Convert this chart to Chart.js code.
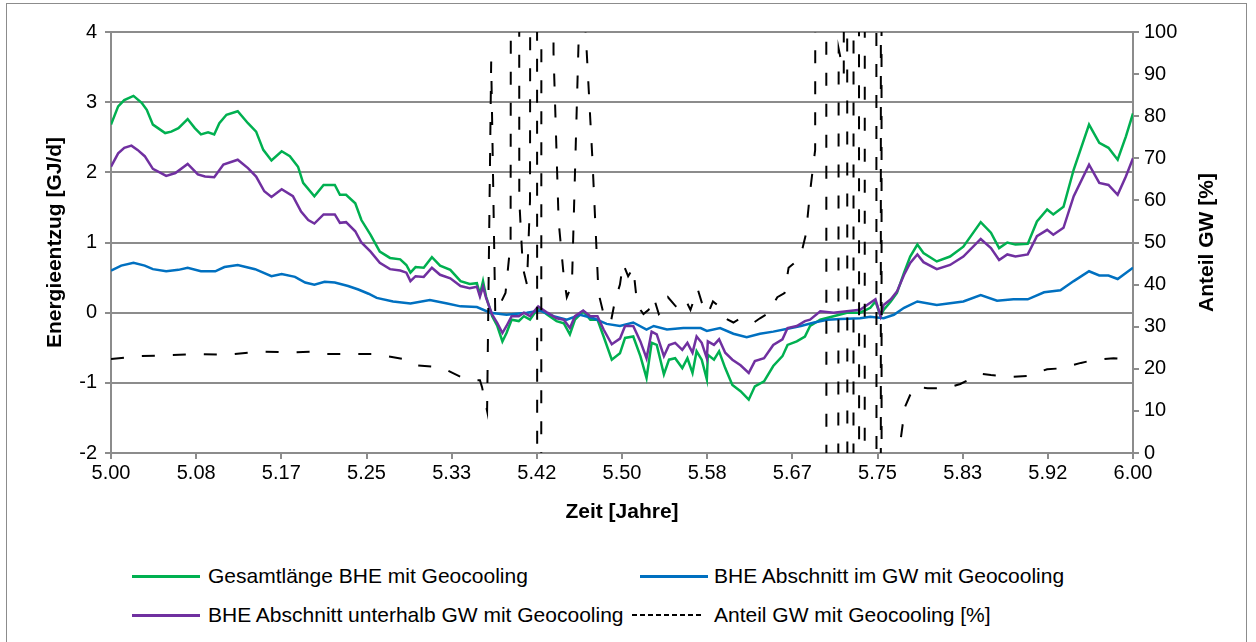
<!DOCTYPE html>
<html>
<head>
<meta charset="utf-8">
<script src="https://cdn.jsdelivr.net/npm/chart.js@4.4.1/dist/chart.umd.min.js"></script>
<style>
  body { margin: 0; background: #fff; font-family: "Liberation Sans", Arial, sans-serif; }
  #frame { position: absolute; left: 6px; top: 3px; width: 1239px; height: 660px; border: 1px solid #8c8c8c; }
  #wrap { position: absolute; left: 0; top: 0; width: 1256px; height: 530px; }
  .item { position: absolute; font-size: 21px; color: #000; white-space: nowrap; line-height: 24px; }
  .swatch { position: absolute; height: 3px; width: 68px; }
  .dash { position: absolute; height: 2px; width: 72px;
          background: repeating-linear-gradient(to right, #000 0 5px, transparent 5px 8px); }
</style>
</head>
<body>
<div id="frame"></div>
<div id="wrap"><canvas id="chart"></canvas></div>
<div id="legend"></div>
<script>
// tick labels and axis titles
var xTickLabels = ['5.00', '5.08', '5.17', '5.25', '5.33', '5.42', '5.50', '5.58', '5.67', '5.75', '5.83', '5.92', '6.00'];
var xTitle = 'Zeit [Jahre]';
var yTitle = 'Energieentzug [GJ/d]';
var yRightTitle = 'Anteil GW [%]';

// Gesamtlänge BHE mit Geocooling [GJ/d]
var greenT = [5.000, 5.007, 5.013, 5.022, 5.030, 5.035, 5.041, 5.046, 5.053, 5.059, 5.066, 5.075, 5.082, 5.088, 5.095, 5.101,
  5.106, 5.113, 5.124, 5.134, 5.142, 5.149, 5.157, 5.167, 5.175, 5.183, 5.188, 5.199, 5.208, 5.219, 5.224, 5.230, 5.239,
  5.245, 5.254, 5.263, 5.273, 5.283, 5.289, 5.293, 5.298, 5.306, 5.314, 5.322, 5.332, 5.342, 5.351, 5.358, 5.361, 5.364,
  5.367, 5.373, 5.378, 5.383, 5.387, 5.392, 5.399, 5.404, 5.410, 5.418, 5.427, 5.436, 5.443, 5.449, 5.454, 5.462, 5.469,
  5.476, 5.482, 5.490, 5.498, 5.503, 5.511, 5.518, 5.524, 5.529, 5.534, 5.541, 5.546, 5.552, 5.559, 5.564, 5.569, 5.573,
  5.578, 5.583, 5.584, 5.590, 5.595, 5.601, 5.608, 5.616, 5.624, 5.630, 5.639, 5.648, 5.657, 5.662, 5.671, 5.679, 5.684,
  5.694, 5.707, 5.720, 5.733, 5.743, 5.748, 5.753, 5.756, 5.763, 5.769, 5.776, 5.782, 5.789, 5.795, 5.808, 5.821, 5.834,
  5.851, 5.861, 5.869, 5.877, 5.885, 5.897, 5.906, 5.916, 5.922, 5.932, 5.942, 5.957, 5.967, 5.976, 5.985, 5.993, 6.000];
var greenV = [2.68, 2.94, 3.03, 3.09, 2.99, 2.89, 2.68, 2.63, 2.56, 2.58, 2.63, 2.76, 2.63, 2.54, 2.57, 2.54,
  2.70, 2.82, 2.87, 2.70, 2.58, 2.32, 2.17, 2.30, 2.23, 2.08, 1.85, 1.66, 1.82, 1.82, 1.68, 1.68, 1.56,
  1.32, 1.11, 0.87, 0.78, 0.76, 0.68, 0.57, 0.65, 0.64, 0.79, 0.67, 0.61, 0.45, 0.41, 0.42, 0.26, 0.45,
  0.23, -0.05, -0.19, -0.41, -0.29, -0.10, -0.12, -0.05, -0.10, 0.07, -0.03, -0.12, -0.15, -0.31, -0.10, 0.02, -0.10,
  -0.10, -0.34, -0.67, -0.58, -0.36, -0.34, -0.62, -0.93, -0.43, -0.46, -0.88, -0.67, -0.65, -0.79, -0.65, -0.86, -0.55,
  -0.67, -0.95, -0.60, -0.67, -0.55, -0.79, -1.03, -1.12, -1.24, -1.05, -0.98, -0.76, -0.62, -0.46, -0.41, -0.34, -0.19,
  -0.10, -0.05, 0.00, 0.00, 0.07, 0.16, -0.05, 0.04, 0.16, 0.28, 0.57, 0.80, 0.97, 0.85, 0.73, 0.80, 0.94,
  1.29, 1.14, 0.92, 1.00, 0.97, 0.98, 1.30, 1.47, 1.40, 1.51, 2.04, 2.68, 2.42, 2.35, 2.18, 2.51, 2.84];

// BHE Abschnitt unterhalb GW mit Geocooling [GJ/d]
var purpleT = [5.000, 5.007, 5.013, 5.020, 5.026, 5.033, 5.041, 5.049, 5.054, 5.063, 5.075, 5.085, 5.092, 5.101, 5.110,
  5.124, 5.134, 5.142, 5.150, 5.157, 5.167, 5.178, 5.186, 5.193, 5.199, 5.208, 5.219, 5.224, 5.230, 5.239, 5.245, 5.254,
  5.263, 5.273, 5.283, 5.289, 5.293, 5.298, 5.306, 5.314, 5.322, 5.332, 5.342, 5.351, 5.358, 5.361, 5.364, 5.367, 5.373,
  5.378, 5.383, 5.387, 5.392, 5.399, 5.404, 5.410, 5.418, 5.427, 5.436, 5.443, 5.449, 5.454, 5.462, 5.469, 5.476, 5.482,
  5.490, 5.498, 5.503, 5.511, 5.518, 5.524, 5.529, 5.534, 5.541, 5.546, 5.552, 5.559, 5.564, 5.569, 5.573, 5.578, 5.583,
  5.584, 5.590, 5.595, 5.601, 5.608, 5.616, 5.624, 5.630, 5.639, 5.648, 5.657, 5.662, 5.671, 5.679, 5.684, 5.694, 5.707,
  5.720, 5.733, 5.743, 5.748, 5.753, 5.756, 5.763, 5.769, 5.776, 5.782, 5.789, 5.795, 5.808, 5.821, 5.834, 5.851, 5.861,
  5.869, 5.877, 5.885, 5.897, 5.906, 5.916, 5.922, 5.932, 5.942, 5.957, 5.967, 5.976, 5.985, 5.993, 6.000];
var purpleV = [2.08, 2.27, 2.35, 2.38, 2.32, 2.23, 2.05, 1.99, 1.95, 1.99, 2.12, 1.97, 1.94, 1.93, 2.11,
  2.18, 2.06, 1.94, 1.73, 1.65, 1.76, 1.66, 1.44, 1.32, 1.27, 1.40, 1.40, 1.28, 1.29, 1.16, 1.00, 0.87,
  0.71, 0.62, 0.60, 0.57, 0.45, 0.52, 0.51, 0.64, 0.54, 0.49, 0.38, 0.35, 0.37, 0.23, 0.37, 0.21, -0.03,
  -0.15, -0.29, -0.19, -0.05, -0.05, 0.00, -0.05, 0.09, 0.00, -0.08, -0.10, -0.22, -0.05, 0.03, -0.05, -0.05, -0.24,
  -0.45, -0.37, -0.19, -0.19, -0.41, -0.65, -0.27, -0.31, -0.62, -0.46, -0.43, -0.53, -0.43, -0.57, -0.34, -0.43, -0.65,
  -0.41, -0.46, -0.38, -0.57, -0.67, -0.75, -0.86, -0.69, -0.65, -0.46, -0.38, -0.22, -0.19, -0.12, -0.10, 0.02, 0.00,
  0.02, 0.04, 0.14, 0.19, -0.05, 0.11, 0.19, 0.30, 0.54, 0.71, 0.83, 0.72, 0.62, 0.68, 0.80, 1.05, 0.92,
  0.75, 0.83, 0.80, 0.83, 1.09, 1.18, 1.11, 1.21, 1.66, 2.11, 1.85, 1.82, 1.68, 1.94, 2.20];

// BHE Abschnitt im GW mit Geocooling [GJ/d]
var blueT = [5.000, 5.010, 5.022, 5.033, 5.041, 5.054, 5.066, 5.075, 5.088, 5.102, 5.111, 5.124, 5.141, 5.157, 5.167,
  5.180, 5.190, 5.199, 5.209, 5.219, 5.232, 5.242, 5.252, 5.260, 5.276, 5.293, 5.312, 5.329, 5.342, 5.358, 5.371, 5.387,
  5.407, 5.420, 5.433, 5.446, 5.459, 5.472, 5.485, 5.498, 5.511, 5.524, 5.531, 5.544, 5.560, 5.577, 5.583, 5.596, 5.609,
  5.622, 5.635, 5.648, 5.662, 5.675, 5.688, 5.701, 5.714, 5.733, 5.743, 5.756, 5.766, 5.776, 5.789, 5.808, 5.834, 5.851,
  5.867, 5.883, 5.897, 5.913, 5.929, 5.942, 5.957, 5.967, 5.976, 5.985, 6.000];
var blueV = [0.60, 0.67, 0.71, 0.67, 0.62, 0.59, 0.61, 0.64, 0.59, 0.59, 0.65, 0.68, 0.62, 0.52, 0.55,
  0.51, 0.43, 0.40, 0.44, 0.43, 0.38, 0.33, 0.27, 0.21, 0.16, 0.13, 0.18, 0.13, 0.09, 0.08, 0.00, -0.03,
  0.00, 0.03, -0.05, -0.10, -0.03, -0.08, -0.16, -0.19, -0.14, -0.24, -0.19, -0.24, -0.22, -0.22, -0.26, -0.22, -0.30,
  -0.35, -0.30, -0.27, -0.23, -0.19, -0.14, -0.10, -0.09, -0.08, -0.06, -0.08, -0.03, 0.07, 0.16, 0.11, 0.16, 0.25,
  0.17, 0.19, 0.19, 0.29, 0.32, 0.45, 0.59, 0.53, 0.53, 0.48, 0.64];

// Anteil GW mit Geocooling [%] (runs far off scale where the total is near zero)
var shareT = [5.000, 5.028, 5.055, 5.087, 5.113, 5.146, 5.175, 5.198, 5.208, 5.231, 5.260, 5.270, 5.286, 5.296, 5.315,
  5.325, 5.342, 5.351, 5.361, 5.363, 5.368, 5.372, 5.376, 5.386, 5.391, 5.3945, 5.398, 5.3995, 5.403, 5.407, 5.410,
  5.413, 5.416, 5.418, 5.420, 5.422, 5.429, 5.433, 5.438, 5.443, 5.446, 5.451, 5.458, 5.459, 5.463, 5.464, 5.471,
  5.477, 5.482, 5.489, 5.493, 5.498, 5.501, 5.506, 5.511, 5.515, 5.521, 5.526, 5.531, 5.536, 5.540, 5.545, 5.552,
  5.557, 5.563, 5.567, 5.574, 5.579, 5.584, 5.589, 5.594, 5.601, 5.609, 5.616, 5.624, 5.629, 5.635, 5.642, 5.647,
  5.652, 5.659, 5.663, 5.668, 5.672, 5.676, 5.680, 5.684, 5.689, 5.692, 5.699, 5.701, 5.708, 5.712, 5.717, 5.719,
  5.722, 5.726, 5.727, 5.731, 5.733, 5.737, 5.738, 5.748, 5.750, 5.753, 5.7535, 5.7545, 5.769, 5.772, 5.777, 5.785,
  5.789, 5.799, 5.818, 5.831, 5.851, 5.861, 5.883, 5.897, 5.916, 5.929, 5.949, 5.962, 5.981, 5.994, 6.000];
var shareV = [22.3, 23.0, 23.2, 23.5, 23.3, 24.1, 23.9, 24.1, 23.5, 23.5, 23.5, 23.0, 22.3, 20.9, 20.5,
  20.1, 18.1, 17.3, 17.3, 15.7, 10, 93, 33, 38, 50, 1000, 1000, 60, 44, 40, 60,
  1000, 1000, -1000, -1000, 1000, 1000, 95, 55, 42, 37, 40, 102, 1000, 1000, 102, 70,
  38, 33, 31, 36, 40, 45, 42, 44, 35, 33, 34, 37, 33, 34, 37, 35,
  34, 36, 34, 39, 35, 33, 36, 35, 32, 31, 32, 31, 31, 32, 33, 35,
  37, 38, 44, 45, 46, 48, 52, 62, 72, 1000, 1000, -1000, -1000, 96, 90, 1000,
  -1000, -1000, 1000, 1000, -1000, -1000, 1000, 1000, -1000, -1000, 1000, -1000, -300, 2, 11, 15.5,
  15.6, 15.4, 15.4, 16.4, 18.8, 18.5, 18.1, 18.3, 19.9, 20.1, 21.4, 22.1, 22.5, 22.3, 22.3];

var labels = ['Gesamtlänge BHE mit Geocooling', 'BHE Abschnitt im GW mit Geocooling',
  'BHE Abschnitt unterhalb GW mit Geocooling', 'Anteil GW mit Geocooling [%]'];
var colors = ['#00b050', '#0070c0', '#7030a0', '#000000'];

function pts(t, v) {
    var out = [];
    for (let i = 0; i < t.length; i++) out.push({ x: t[i], y: v[i] });
    return out;
}

var axisGray = '#8c8c8c';
var tickFont = { family: 'Liberation Sans', size: 20 };
var titleFont = { family: 'Liberation Sans', size: 21, weight: 'bold' };

var rightTitle = {
    id: 'rightTitle',
    afterDraw(chart) {
        const c = chart.ctx, a = chart.chartArea;
        c.save();
        c.translate(a.right + 74, (a.top + a.bottom) / 2);
        c.rotate(-Math.PI / 2);
        c.font = 'bold 21px "Liberation Sans"';
        c.textAlign = 'center';
        c.textBaseline = 'middle';
        c.fillStyle = '#000';
        c.fillText(yRightTitle, 0, 0);
        c.restore();
    }
};

new Chart(document.getElementById('chart'), {
    type: 'line',
    data: {
        datasets: [
            { label: labels[3], data: pts(shareT, shareV), yAxisID: 'y1', borderColor: colors[3], borderWidth: 2, borderDash: [13, 18] },
            { label: labels[2], data: pts(purpleT, purpleV), yAxisID: 'y', borderColor: colors[2], borderWidth: 2.5 },
            { label: labels[1], data: pts(blueT, blueV), yAxisID: 'y', borderColor: colors[1], borderWidth: 2.5 },
            { label: labels[0], data: pts(greenT, greenV), yAxisID: 'y', borderColor: colors[0], borderWidth: 2.5 }
        ]
    },
    options: {
        responsive: true,
        maintainAspectRatio: false,
        animation: false,
        layout: { padding: { top: 32, left: 0, right: 0, bottom: 0 } },
        elements: { point: { radius: 0 }, line: { tension: 0, fill: false } },
        plugins: { legend: { display: false }, tooltip: { enabled: false } },
        scales: {
            x: {
                type: 'linear', min: 5, max: 6,
                afterBuildTicks: function (s) { s.ticks = xTickLabels.map((l, i) => ({ value: 5 + i / 12 })); },
                afterFit: function (s) { s.height = 77; },
                ticks: { callback: (v, i) => xTickLabels[i], maxRotation: 0, autoSkip: false, color: '#000', font: tickFont, padding: 2 },
                grid: { drawOnChartArea: false, color: axisGray, tickColor: axisGray, tickLength: 6, lineWidth: 2 },
                border: { display: true, color: axisGray, width: 2 },
                title: { display: true, text: xTitle, color: '#000', font: titleFont, padding: { top: 0, bottom: 5 } }
            },
            y: {
                position: 'left', min: -2, max: 4,
                afterFit: function (s) { s.width = 111; },
                ticks: { stepSize: 1, color: '#000', font: tickFont, padding: 8 },
                grid: { color: axisGray, tickColor: axisGray, tickLength: 6, lineWidth: 2 },
                border: { display: true, color: axisGray, width: 2 },
                title: { display: true, text: yTitle, color: '#000', font: titleFont, padding: { top: 43, bottom: 0 } }
            },
            y1: {
                position: 'right', min: 0, max: 100,
                afterFit: function (s) { s.width = 123; },
                ticks: { stepSize: 10, color: '#000', font: tickFont, padding: 5 },
                grid: { drawOnChartArea: false, color: axisGray, tickColor: axisGray, tickLength: 6, lineWidth: 2 },
                border: { display: true, color: axisGray, width: 2 }
            }
        }
    },
    plugins: [rightTitle]
});

// legend below the chart, two columns
var legendPos = [[132, 576], [640, 576], [132, 615], [632, 615]];
var lg = document.getElementById('legend');
for (let i = 0; i < labels.length; i++) {
    const sw = document.createElement('div');
    if (i === 3) {
        sw.className = 'dash';
        sw.style.left = legendPos[i][0] + 'px';
        sw.style.top = (legendPos[i][1] - 1) + 'px';
    } else {
        sw.className = 'swatch';
        sw.style.background = colors[i];
        sw.style.left = legendPos[i][0] + 'px';
        sw.style.top = (legendPos[i][1] - 1) + 'px';
    }
    lg.appendChild(sw);
    const tx = document.createElement('div');
    tx.className = 'item';
    tx.textContent = labels[i];
    tx.style.left = (i % 2 === 0 ? 208 : 714) + 'px';
    tx.style.top = (legendPos[i][1] - 12) + 'px';
    lg.appendChild(tx);
}
</script>
</body>
</html>
